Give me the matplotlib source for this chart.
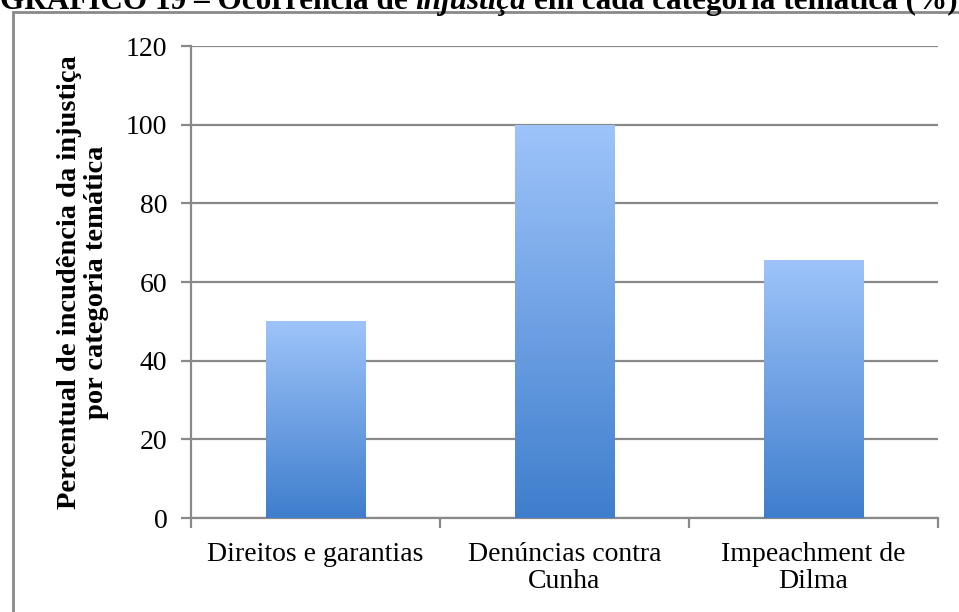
import numpy as np
import matplotlib.pyplot as plt
from matplotlib.patches import Rectangle
from matplotlib.colors import LinearSegmentedColormap

# data
categories = ['Direitos e garantias', 'Denúncias contra\nCunha', 'Impeachment de\nDilma']
valores = [50, 100, 65.6]
yticks = [0, 20, 40, 60, 80, 100, 120]

W, H = 959, 612
fig = plt.figure(figsize=(W / 100, H / 100), dpi=100)
ax = fig.add_axes([191 / W, 1 - 518 / H, (938 - 191) / W, (518 - 46) / H])

gray = '#898989'
grad = LinearSegmentedColormap.from_list('g', ['#3f7ecd', '#9ec4fa'])

x = np.arange(len(categories))
bars = ax.bar(x, valores, width=0.4, color='none', zorder=3)
img = np.linspace(0, 1, 256).reshape(-1, 1)
for b in bars:
    x0, w, h = b.get_x(), b.get_width(), b.get_height()
    im = ax.imshow(img, cmap=grad, origin='lower', aspect='auto',
                   extent=(x0, x0 + w, 0, h), zorder=3)
    clip = Rectangle((x0, 0), w, h, transform=ax.transData)
    im.set_clip_path(clip)

ax.set_xlim(-0.5, 2.5)
ax.set_ylim(0, 120)
ax.set_yticks(yticks)
ax.yaxis.grid(True, color=gray, linewidth=1.6, zorder=1)
ax.set_axisbelow(True)
for s in ['top', 'right']:
    ax.spines[s].set_visible(False)
for s in ['left', 'bottom']:
    ax.spines[s].set_color(gray)
    ax.spines[s].set_linewidth(1.6)

ax.set_xticks(x)
ax.set_xticklabels(categories, fontsize=20, family='Liberation Serif', linespacing=1.15)
ax.set_xticks([-0.5, 0.5, 1.5, 2.5], minor=True)
ax.tick_params(axis='x', which='major', length=0, pad=17)
ax.tick_params(axis='x', which='minor', length=7, width=1.6, color=gray, direction='out')
ax.tick_params(axis='y', length=7, width=1.6, color=gray, pad=10)
for t in ax.get_yticklabels():
    t.set_fontsize(20)
    t.set_family('Liberation Serif')

ax.set_ylabel('Percentual de incudência da injustiça\npor categoria temática',
              fontsize=20.5, fontweight='bold', family='Liberation Serif',
              labelpad=12, linespacing=1.1)

# outer frame
fig.patches.append(Rectangle((13 / W, -0.1), 1.2, 1 - 12 / H + 0.1,
                             transform=fig.transFigure, fill=False,
                             edgecolor=gray, linewidth=2))

# title, partly cut off at the top
ty = 1 - 9 / H
t1 = fig.text(0, ty, 'GRÁFICO 19 – Ocorrência de ', fontsize=22.5,
              fontweight='bold', family='Liberation Serif', va='baseline')
t2 = fig.text(0, 0, 'injustiça', fontsize=22.5, fontweight='bold', style='italic',
              family='Liberation Serif', va='baseline')
t3 = fig.text(0, 0, ' em cada categoria temática (%)', fontsize=22.5,
              fontweight='bold', family='Liberation Serif', va='baseline')
r = fig.canvas.get_renderer()
e1 = t1.get_window_extent(r)
t2.set_position((e1.x1 / W, ty))
e2 = t2.get_window_extent(r)
t3.set_position((e2.x1 / W, ty))

fig.savefig('out.png', dpi=100)
